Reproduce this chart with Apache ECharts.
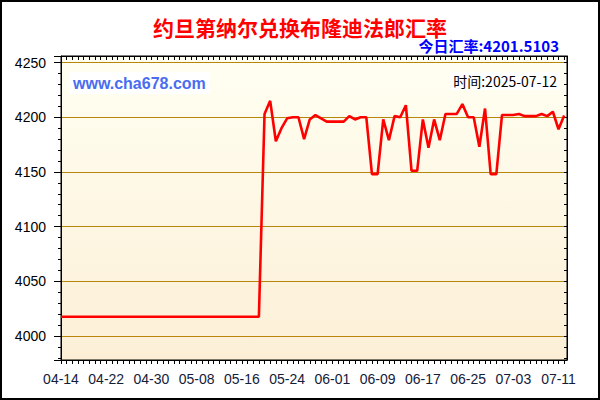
<!DOCTYPE html>
<html>
<head>
<meta charset="utf-8">
<script src="https://cdn.jsdelivr.net/npm/echarts@6/dist/echarts.min.js"></script>
<style>
html,body{margin:0;padding:0;background:#fff;}
#chart{width:600px;height:400px;}
</style>
</head>
<body>
<div id="chart"></div>
<script>
// ---- data ----
const titleText = '约旦第纳尔兑换布隆迪法郎汇率';
const todayText = '今日汇率:4201.5103';
const siteText = 'www.cha678.com';
const timeText = '时间:2025-07-12';

const startDay = [2025, 4, 14];
const dayCount = 90; // 04-14 .. 07-12
const labelEvery = 8;

const rateValues = [
  4017.5,4017.5,4017.5,4017.5,4017.5,4017.5,4017.5,4017.5,4017.5,4017.5,
  4017.5,4017.5,4017.5,4017.5,4017.5,4017.5,4017.5,4017.5,4017.5,4017.5,
  4017.5,4017.5,4017.5,4017.5,4017.5,4017.5,4017.5,4017.5,4017.5,4017.5,
  4017.5,4017.5,4017.5,4017.5,4017.5,4017.5,
  4203,4215,4178,4190,4199,4200,4200,4180,4198,4202,
  4199,4196,4196,4196,4196,4201,4198,4200,4200,4148,
  4148,4198,4179,4201,4200,4211,4151,4151,4198,4172,
  4198,4179,4203,4203,4203,4212,4200,4200,4173,4208,
  4148,4148,4202,4202,4202,4203,4201,4201,4201,4203,
  4201,4205,4189,4201.51
];

const yMin = 3978, yMax = 4256;

// day labels (MM-DD)
const dayLabels = [];
for (let i = 0; i < dayCount; i++) {
  const d = new Date(Date.UTC(startDay[0], startDay[1] - 1, startDay[2] + i));
  const mm = String(d.getUTCMonth() + 1).padStart(2, '0');
  const dd = String(d.getUTCDate()).padStart(2, '0');
  dayLabels.push(mm + '-' + dd);
}

const chart = echarts.init(document.getElementById('chart'), null, {renderer: 'svg', width: 600, height: 400});

const latin = '"Liberation Sans", Arial, sans-serif';
const cjk = '"Noto Sans CJK SC", "Liberation Sans", sans-serif';

const option = {
  animation: false,
  backgroundColor: '#ffffff',
  title: [
    {text: titleText, left: 'center', top: 11,
     textStyle: {color: '#FF0000', fontSize: 21, fontWeight: 'bold', fontFamily: cjk}},
    {text: todayText, right: 36, top: 33,
     textStyle: {color: '#0000FF', fontSize: 15, fontWeight: 'bold', fontFamily: cjk}},
    {text: siteText, left: 69, top: 72, padding: [3, 4, 3, 4], backgroundColor: '#ffffff',
     textStyle: {color: '#4A6CF0', fontSize: 16, fontWeight: 'bold', fontFamily: latin}},
    {text: timeText, right: 40, top: 72, padding: [2, 3, 2, 3], backgroundColor: '#ffffff',
     textStyle: {color: '#000000', fontSize: 14, fontWeight: 'normal', fontFamily: cjk}}
  ],
  grid: {
    left: 61, top: 56, width: 506, height: 304,
    containLabel: false, outerBoundsMode: 'none',
    show: true,
    backgroundColor: new echarts.graphic.LinearGradient(0, 0, 0, 1, [
      {offset: 0, color: '#FFFFF2'},
      {offset: 1, color: '#FCEFD6'}
    ]),
    borderColor: '#000', borderWidth: 1
  },
  xAxis: [
    {
      type: 'value', position: 'bottom', min: 0, max: dayCount - 0.5, interval: 1,
      axisLine: {show: true, onZero: false, lineStyle: {color: '#000', width: 1}},
      axisTick: {show: true, inside: false, length: 4, lineStyle: {color: '#000'}},
      splitLine: {show: false},
      axisLabel: {
        show: true, margin: 12, color: '#14203A', fontSize: 14, fontFamily: latin,
        showMinLabel: true, showMaxLabel: false,
        formatter: function (v) {
          if (Math.abs(v - Math.round(v)) > 1e-6) return '';
          const i = Math.round(v);
          return (i % labelEvery === 0 && i < dayLabels.length) ? dayLabels[i] : '';
        }
      }
    },
    {
      type: 'value', position: 'top', min: 0, max: dayCount - 0.5, interval: 1,
      axisLine: {show: true, onZero: false, lineStyle: {color: '#000', width: 1}},
      axisTick: {show: true, inside: true, length: 4, lineStyle: {color: '#000'}},
      splitLine: {show: false},
      axisLabel: {show: false}
    }
  ],
  yAxis: [
    {
      type: 'value', position: 'left', min: yMin, max: yMax, splitNumber: 5,
      axisLine: {show: true, onZero: false, lineStyle: {color: '#000', width: 1}},
      axisTick: {show: true, inside: false, length: 7, lineStyle: {color: '#000'}},
      minorTick: {show: true, splitNumber: 5, length: 3, lineStyle: {color: '#000'}},
      splitLine: {show: true, lineStyle: {color: '#B8860B', width: 1}},
      axisLabel: {
        show: true, margin: 15, color: '#000', fontSize: 14, fontFamily: latin,
        formatter: function (v) { return (Math.round(v) % 50 === 0 && Math.abs(v - Math.round(v)) < 1e-6) ? String(v) : ''; }
      }
    },
    {
      type: 'value', position: 'right', min: yMin, max: yMax, splitNumber: 5,
      axisLine: {show: true, onZero: false, lineStyle: {color: '#000', width: 1}},
      axisTick: {show: true, inside: true, length: 3, lineStyle: {color: '#000'}},
      minorTick: {show: true, splitNumber: 5, length: 3, lineStyle: {color: '#000'}},
      splitLine: {show: false},
      axisLabel: {show: false}
    }
  ],
  series: [
    {
      type: 'line',
      xAxisIndex: 0, yAxisIndex: 0,
      data: rateValues.map(function (v, i) { return [i, v]; }),
      showSymbol: false, symbol: 'none',
      lineStyle: {color: '#FF0000', width: 2.6},
      z: 5
    }
  ],
  graphic: [
    {type: 'rect', shape: {x: 1, y: 1, width: 598, height: 398},
     style: {fill: 'none', stroke: '#000', lineWidth: 2}, silent: true, z: 100}
  ]
};
chart.setOption(option);
</script>
</body>
</html>
